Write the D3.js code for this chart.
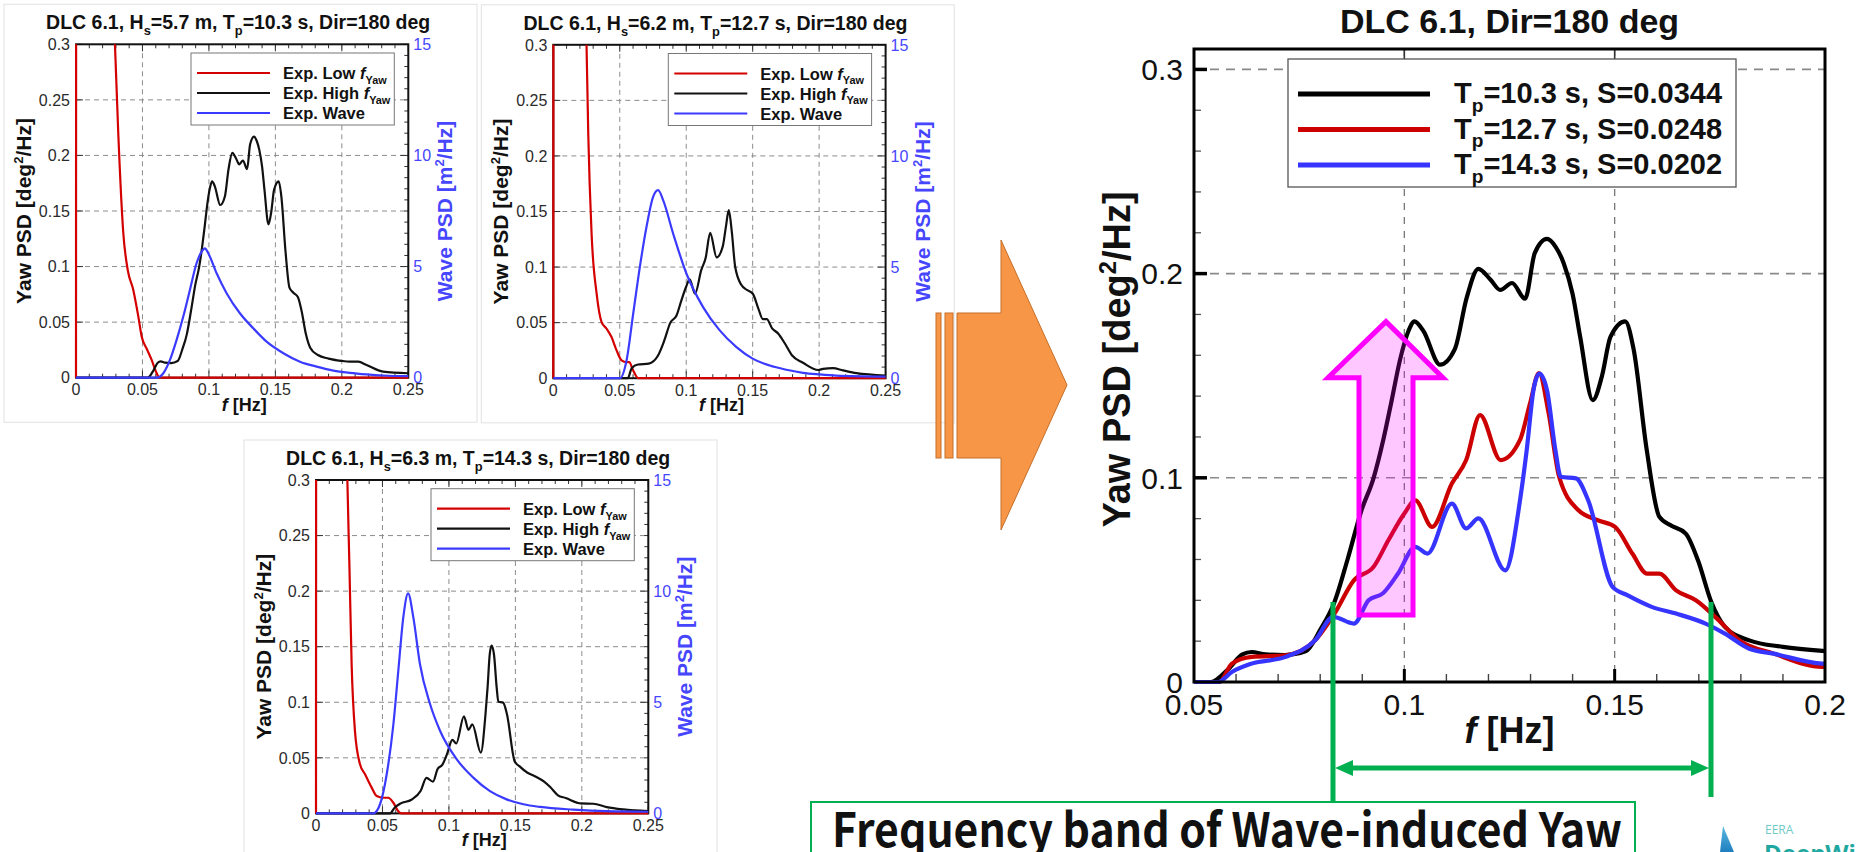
<!DOCTYPE html>
<html>
<head>
<meta charset="utf-8">
<script src="https://cdn.jsdelivr.net/npm/d3@7"></script>
<style>
  html, body { margin: 0; padding: 0; background: #fff; }
  svg { display: block; }
  svg { font-family: "Liberation Sans", Arial, Helvetica, sans-serif; }
</style>
</head>
<body>
<svg id="fig" width="1856" height="852"></svg>
<script>
// ---------------- tick labels ----------------
const smallXTicks = [0, 0.05, 0.1, 0.15, 0.2, 0.25];
const smallYTicks = [0, 0.05, 0.1, 0.15, 0.2, 0.25, 0.3];
const waveTicks = [0, 5, 10, 15];
const bigXTicks = [0.05, 0.1, 0.15, 0.2];
const bigYTicks = [0, 0.1, 0.2, 0.3];

// ---------------- sea states ----------------
const waveHeights = ["5.7", "6.2", "6.3"];
const peakPeriods = ["10.3", "12.7", "14.3"];
const steepness = ["0.0344", "0.0248", "0.0202"];
const smallLegendLabels = ["Exp. Low ", "Exp. High ", "Exp. Wave"];

// ---------------- low-frequency yaw PSD [deg^2/Hz] ----------------
const lowF103 = [0, 0.0008, 0.02, 0.0293, 0.0318, 0.0356, 0.0389, 0.0431, 0.0469, 0.0494, 0.0532, 0.0569, 0.0607, 0.0627, 0.08, 0.25];
const lowPsd103 = [0, 3, 0.9, 0.3, 0.22, 0.13, 0.097, 0.079, 0.055, 0.037, 0.026, 0.016, 0.004, 0, 0, 0];
const lowF127 = [0, 0.0008, 0.018, 0.025, 0.0263, 0.0288, 0.0326, 0.0363, 0.0401, 0.0438, 0.0476, 0.0514, 0.0551, 0.0571, 0.0601, 0.0639, 0.08, 0.25];
const lowPsd127 = [0, 3, 0.9, 0.3, 0.22, 0.13, 0.076, 0.0505, 0.0445, 0.037, 0.025, 0.016, 0.0144, 0.0144, 0.007, 0, 0, 0];
const lowF143 = [0, 0.0008, 0.017, 0.0236, 0.0251, 0.0268, 0.0293, 0.0331, 0.0369, 0.0419, 0.0456, 0.0507, 0.0544, 0.0582, 0.0619, 0.0644, 0.08, 0.25];
const lowPsd143 = [0, 3, 0.9, 0.3, 0.225, 0.1345, 0.0743, 0.0442, 0.0352, 0.0232, 0.0156, 0.0141, 0.0141, 0.0096, 0.002, 0, 0, 0];

// ---------------- high-frequency (wave-induced) yaw PSD [deg^2/Hz] ----------------
const yawF103 = [0, 0.054, 0.058, 0.0615, 0.0637, 0.067, 0.0716, 0.0765, 0.080, 0.0834,
  0.0865, 0.0898, 0.0927, 0.095, 0.097, 0.099, 0.101, 0.1024, 0.1045, 0.1085,
  0.112, 0.1148, 0.1176, 0.1205, 0.1228, 0.1256, 0.1287, 0.131, 0.1339, 0.136,
  0.1379, 0.14, 0.1418, 0.1448, 0.147, 0.149, 0.1525, 0.1545, 0.1576, 0.1606,
  0.1635, 0.1669, 0.1698, 0.173, 0.1762, 0.182, 0.19, 0.1994, 0.206, 0.2124,
  0.2186, 0.231, 0.25];
const yawPsd103 = [0, 0, 0.006, 0.0135, 0.0147, 0.0135, 0.0132, 0.015, 0.0255, 0.0392,
  0.06, 0.084, 0.1, 0.1186, 0.138, 0.158, 0.172, 0.1766, 0.172, 0.1554,
  0.163, 0.188, 0.2023, 0.197, 0.192, 0.1954, 0.1877, 0.21, 0.217, 0.213,
  0.205, 0.19, 0.169, 0.138, 0.15, 0.169, 0.1766, 0.163, 0.114, 0.081,
  0.0765, 0.0727, 0.0596, 0.039, 0.027, 0.0204, 0.0172, 0.0152, 0.0144, 0.0144,
  0.0114, 0.0054, 0.004];
const yawF127 = [0, 0.056, 0.059, 0.0637, 0.0718, 0.0788, 0.0834, 0.088, 0.0927, 0.0962,
  0.1, 0.1026, 0.1066, 0.1113, 0.1147, 0.118, 0.1229, 0.1275, 0.1299, 0.132,
  0.1343, 0.1368, 0.1414, 0.146, 0.1501, 0.1542, 0.1577, 0.1606, 0.1646, 0.1693,
  0.1739, 0.1797, 0.1878, 0.1994, 0.2029, 0.2104, 0.2179, 0.228, 0.25];
const yawPsd127 = [0, 0, 0.009, 0.0123, 0.0131, 0.0204, 0.0335, 0.0498, 0.0564, 0.0694,
  0.0825, 0.089, 0.076, 0.0972, 0.1087, 0.1307, 0.1087, 0.1186, 0.1366, 0.1513,
  0.1317, 0.1005, 0.0841, 0.0792, 0.076, 0.0629, 0.0531, 0.0531, 0.0449, 0.04,
  0.0319, 0.0204, 0.0139, 0.0074, 0.0084, 0.009, 0.007, 0.0045, 0.0024];
const yawF143 = [0, 0.0557, 0.059, 0.0637, 0.0718, 0.0788, 0.0831, 0.088, 0.0915, 0.095,
  0.0985, 0.1026, 0.1055, 0.1113, 0.1147, 0.1176, 0.124, 0.1275, 0.1291, 0.1307,
  0.1321, 0.1339, 0.1359, 0.1372, 0.1408, 0.1437, 0.1495, 0.153, 0.1588, 0.1646,
  0.1716, 0.1762, 0.182, 0.1878, 0.1994, 0.2086, 0.2187, 0.2312, 0.25];
const yawPsd143 = [0, 0, 0.0049, 0.009, 0.0123, 0.0204, 0.0319, 0.0286, 0.04, 0.0436,
  0.0531, 0.0662, 0.0629, 0.0874, 0.0752, 0.0801, 0.0547, 0.089, 0.1137, 0.143,
  0.151, 0.143, 0.1137, 0.1005, 0.0997, 0.089, 0.0466, 0.0425, 0.0368, 0.0335,
  0.0286, 0.0237, 0.0163, 0.0139, 0.009, 0.0087, 0.0057, 0.0036, 0.002];

// ---------------- wave elevation PSD [m^2/Hz] ----------------
const waveF103 = [0, 0.0607, 0.0657, 0.0707, 0.0757, 0.0807, 0.0857, 0.0907, 0.0945, 0.097,
  0.0995, 0.1058, 0.1133, 0.1233, 0.1334, 0.1434, 0.156, 0.1685, 0.181, 0.1936,
  0.206, 0.2186, 0.2312, 0.25];
const wavePsd103 = [0, 0, 0.2, 0.8, 1.7, 2.75, 3.95, 5.15, 5.67, 5.82,
  5.6, 4.7, 3.8, 2.9, 2.22, 1.62, 1.1, 0.72, 0.5, 0.32,
  0.22, 0.15, 0.1, 0.07];
const waveF127 = [0, 0.0501, 0.0551, 0.0601, 0.0651, 0.0701, 0.0751, 0.0789, 0.0827, 0.0902,
  0.1002, 0.1127, 0.1252, 0.1378, 0.1503, 0.1628, 0.1754, 0.1879, 0.2004, 0.2129, 0.25];
const wavePsd127 = [0, 0, 0.8, 2.9, 5.0, 6.8, 8.16, 8.46, 8.0, 6.5,
  4.7, 3.2, 2.15, 1.4, 0.87, 0.57, 0.38, 0.24, 0.17, 0.12, 0.075];
const waveF143 = [0, 0.0431, 0.0481, 0.0532, 0.0582, 0.0619, 0.0657, 0.0693, 0.0732, 0.0782,
  0.0858, 0.0933, 0.1058, 0.1183, 0.1309, 0.1434, 0.156, 0.1685, 0.1936, 0.2187, 0.25];
const wavePsd143 = [0, 0, 0.4, 1.76, 4.0, 6.4, 8.83, 9.9, 8.83, 6.72,
  4.92, 3.72, 2.44, 1.61, 1.0, 0.63, 0.41, 0.29, 0.17, 0.1, 0.075];

// ---------------- helpers ----------------
const zip = (a, b) => a.map((v, i) => [v, b[i]]);
const svg = d3.select("#fig");
const defs = svg.append("defs");

const RED = "#d40000", BLUE = "#3b3bff", BLUE_TXT = "#4646ff";

// text built from pieces: {t, sub, sup, it}
function richText(sel, parts, baseSize) {
  let shift = 0;
  parts.forEach(p => {
    const ts = sel.append("tspan").text(p.t);
    let target = 0;
    if (p.sub) { target = baseSize * 0.3; ts.attr("font-size", baseSize * 0.66); }
    if (p.sup) { target = -baseSize * 0.38; ts.attr("font-size", baseSize * 0.62); }
    if (p.it) ts.attr("font-style", "italic");
    if (target !== shift) { ts.attr("dy", target - shift); shift = target; }
  });
  return sel;
}

// ---------------- small Tecplot-style panels ----------------
function smallPanel(k, ox, oy, low, yaw, wave) {
  const L = 76 + ox, R = 408.3 + ox, T = 44.3 + oy, B = 377.7 + oy;
  const x = d3.scaleLinear().domain([0, 0.25]).range([L, R]);
  const y = d3.scaleLinear().domain([0, 0.3]).range([B, T]);
  const yw = d3.scaleLinear().domain([0, 15]).range([B, T]);
  const g = svg.append("g");

  // faint frame of the panel image
  g.append("rect").attr("x", L - 72).attr("y", T - 40).attr("width", 473).attr("height", 418)
    .attr("fill", "none").attr("stroke", "#e6e6e6").attr("stroke-width", 1.2);

  // dashed grid
  g.selectAll(null).data(smallXTicks.slice(1, -1)).join("line")
    .attr("x1", d => x(d)).attr("x2", d => x(d)).attr("y1", T).attr("y2", B)
    .attr("stroke", "#8c8c8c").attr("stroke-width", 1).attr("stroke-dasharray", "5,4");
  g.selectAll(null).data(smallYTicks.slice(1, -1)).join("line")
    .attr("x1", L).attr("x2", R).attr("y1", d => y(d)).attr("y2", d => y(d))
    .attr("stroke", "#8c8c8c").attr("stroke-width", 1).attr("stroke-dasharray", "5,4");

  // ticks (inward)
  const minorX = d3.range(0, 0.2501, 0.01);
  g.selectAll(null).data(minorX).join("line")
    .attr("x1", d => x(d)).attr("x2", d => x(d))
    .attr("y1", B).attr("y2", (d, i) => B - (i % 5 === 0 ? 7 : 4))
    .attr("stroke", "#333").attr("stroke-width", 1);
  g.selectAll(null).data(minorX).join("line")
    .attr("x1", d => x(d)).attr("x2", d => x(d))
    .attr("y1", T).attr("y2", (d, i) => T + (i % 5 === 0 ? 7 : 4))
    .attr("stroke", "#333").attr("stroke-width", 1);
  g.selectAll(null).data(smallYTicks).join("line")
    .attr("x1", L).attr("x2", L + 7).attr("y1", d => y(d)).attr("y2", d => y(d))
    .attr("stroke", "#333").attr("stroke-width", 1);
  const minorW = d3.range(0, 15.01, 0.5);
  g.selectAll(null).data(minorW).join("line")
    .attr("x1", R).attr("x2", (d, i) => R - (i % 10 === 0 ? 8 : 4))
    .attr("y1", d => yw(d)).attr("y2", d => yw(d))
    .attr("stroke", "#333").attr("stroke-width", 1);

  // frame
  g.append("rect").attr("x", L).attr("y", T).attr("width", R - L).attr("height", B - T)
    .attr("fill", "none").attr("stroke", "#111").attr("stroke-width", 2);

  // curves
  const cid = "clipSmall" + k;
  defs.append("clipPath").attr("id", cid).append("rect")
    .attr("x", L - 2).attr("y", T).attr("width", R - L + 4).attr("height", B - T + 2);
  const cg = g.append("g").attr("clip-path", `url(#${cid})`);
  const lineY = d3.line().x(d => x(d[0])).y(d => y(d[1])).curve(d3.curveMonotoneX);
  const lineW = d3.line().x(d => x(d[0])).y(d => yw(d[1])).curve(d3.curveMonotoneX);
  cg.append("path").datum(low).attr("d", lineY).attr("fill", "none").attr("stroke", RED).attr("stroke-width", 2.2);
  cg.append("path").datum(yaw).attr("d", lineY).attr("fill", "none").attr("stroke", "#111").attr("stroke-width", 2.2);
  cg.append("path").datum(wave).attr("d", lineW).attr("fill", "none").attr("stroke", BLUE).attr("stroke-width", 2.2);

  // tick labels
  g.selectAll(null).data(smallYTicks).join("text")
    .attr("x", L - 6).attr("y", d => y(d)).attr("dy", "0.36em")
    .attr("text-anchor", "end").attr("font-size", 16).attr("fill", "#2a2a2a")
    .text(d => d3.format("~g")(d));
  g.selectAll(null).data(smallXTicks).join("text")
    .attr("x", d => x(d)).attr("y", B + 17.5)
    .attr("text-anchor", "middle").attr("font-size", 16).attr("fill", "#2a2a2a")
    .text(d => d3.format("~g")(d));
  g.selectAll(null).data(waveTicks).join("text")
    .attr("x", R + 5).attr("y", d => yw(d)).attr("dy", "0.36em")
    .attr("text-anchor", "start").attr("font-size", 16).attr("fill", BLUE_TXT)
    .text(d => d);

  // axis titles
  richText(g.append("text").attr("x", (L + R) / 2 + 2).attr("y", B + 33)
    .attr("text-anchor", "middle").attr("font-size", 18).attr("font-weight", "bold").attr("fill", "#111"),
    [{ t: "f", it: true }, { t: " [Hz]" }], 18);
  richText(g.append("text").attr("transform", `translate(${L - 45},${(T + B) / 2}) rotate(-90)`)
    .attr("text-anchor", "middle").attr("font-size", 21).attr("font-weight", "bold").attr("fill", "#111"),
    [{ t: "Yaw PSD [deg" }, { t: "2", sup: true }, { t: "/Hz]" }], 21);
  richText(g.append("text").attr("transform", `translate(${R + 44},${(T + B) / 2}) rotate(-90)`)
    .attr("text-anchor", "middle").attr("font-size", 21).attr("font-weight", "bold").attr("fill", BLUE_TXT),
    [{ t: "Wave PSD [m" }, { t: "2", sup: true }, { t: "/Hz]" }], 21);

  // title
  richText(g.append("text").attr("x", (L + R) / 2 - 4).attr("y", T - 15)
    .attr("text-anchor", "middle").attr("font-size", 19.5).attr("font-weight", "bold").attr("fill", "#111"),
    [{ t: "DLC 6.1, H" }, { t: "s", sub: true }, { t: `=${waveHeights[k]} m, T` }, { t: "p", sub: true },
     { t: `=${peakPeriods[k]} s, Dir=180 deg` }], 19.5);

  // legend
  const lg = g.append("g");
  lg.append("rect").attr("x", L + 115).attr("y", T + 8.7).attr("width", R - L - 129).attr("height", 72)
    .attr("fill", "#fff").attr("stroke", "#777").attr("stroke-width", 1);
  const cols = [RED, "#111", BLUE];
  smallLegendLabels.forEach((lab, i) => {
    const ly = T + 28.7 + i * 20;
    lg.append("line").attr("x1", L + 121).attr("x2", L + 194).attr("y1", ly).attr("y2", ly)
      .attr("stroke", cols[i]).attr("stroke-width", 2.2);
    const parts = i < 2 ? [{ t: lab }, { t: "f", it: true }, { t: "Yaw", sub: true }] : [{ t: lab }];
    richText(lg.append("text").attr("x", L + 207).attr("y", ly + 6)
      .attr("font-size", 16.5).attr("font-weight", "bold").attr("fill", "#111"), parts, 16.5);
  });
}

smallPanel(0, 0, 0, zip(lowF103, lowPsd103), zip(yawF103, yawPsd103), zip(waveF103, wavePsd103));
smallPanel(1, 477.3, 0.5, zip(lowF127, lowPsd127), zip(yawF127, yawPsd127), zip(waveF127, wavePsd127));
smallPanel(2, 240, 435.7, zip(lowF143, lowPsd143), zip(yawF143, yawPsd143), zip(waveF143, wavePsd143));

// ---------------- block arrow ----------------
const arrow = svg.append("g").attr("fill", "#f79646").attr("stroke", "#c56f2a").attr("stroke-width", 1);
arrow.append("rect").attr("x", 936).attr("y", 313).attr("width", 5).attr("height", 145);
arrow.append("rect").attr("x", 945).attr("y", 313).attr("width", 8).attr("height", 145);
arrow.append("polygon").attr("points", "957,313 1001,313 1001,240 1067,385 1001,530 1001,458 957,458");

// ---------------- comparison chart ----------------
const BL = 1194, BR = 1825, BT = 49, BB = 682;
const xb = d3.scaleLinear().domain([0.05, 0.2]).range([BL, BR]);
const yb = d3.scaleLinear().domain([0, 0.31]).range([BB, BT]);
const big = svg.append("g");

// grid
big.selectAll(null).data([0.1, 0.15]).join("line")
  .attr("x1", d => xb(d)).attr("x2", d => xb(d)).attr("y1", BT).attr("y2", BB)
  .attr("stroke", "#777").attr("stroke-width", 1.3).attr("stroke-dasharray", "7,7");
big.selectAll(null).data([0.1, 0.2, 0.3]).join("line")
  .attr("x1", BL).attr("x2", BR).attr("y1", d => yb(d)).attr("y2", d => yb(d))
  .attr("stroke", "#8a8a8a").attr("stroke-width", 1.6).attr("stroke-dasharray", "9,7");

// ticks
big.selectAll(null).data(d3.range(0.06, 0.2, 0.01)).join("line")
  .attr("x1", d => xb(d)).attr("x2", d => xb(d)).attr("y1", BB).attr("y2", BB - 8)
  .attr("stroke", "#444").attr("stroke-width", 1.4);
big.selectAll(null).data([0.1, 0.15]).join("line")
  .attr("x1", d => xb(d)).attr("x2", d => xb(d)).attr("y1", BB).attr("y2", BB - 13)
  .attr("stroke", "#000").attr("stroke-width", 3);
big.selectAll(null).data([0.1, 0.15]).join("line")
  .attr("x1", d => xb(d)).attr("x2", d => xb(d)).attr("y1", BT).attr("y2", BT + 10)
  .attr("stroke", "#333").attr("stroke-width", 1.6);
big.selectAll(null).data(d3.range(0.02, 0.31, 0.02).filter(v => Math.abs(v * 10 - Math.round(v * 10)) > 1e-6)).join("line")
  .attr("x1", BL).attr("x2", BL + 7).attr("y1", d => yb(d)).attr("y2", d => yb(d))
  .attr("stroke", "#555").attr("stroke-width", 1.3);
big.selectAll(null).data(bigYTicks.slice(1)).join("line")
  .attr("x1", BL).attr("x2", BL + 13).attr("y1", d => yb(d)).attr("y2", d => yb(d))
  .attr("stroke", "#000").attr("stroke-width", 3.5);

// legend
const blg = big.append("g");
blg.append("rect").attr("x", 1288).attr("y", 59).attr("width", 448).attr("height", 128)
  .attr("fill", "#fff").attr("stroke", "#555").attr("stroke-width", 1.3);
const bigCols = ["#000", "#cc0000", "#3535ff"];
peakPeriods.forEach((tp, i) => {
  const ly = 94 + i * 35.5;
  blg.append("line").attr("x1", 1298).attr("x2", 1430).attr("y1", ly).attr("y2", ly)
    .attr("stroke", bigCols[i]).attr("stroke-width", 5);
  richText(blg.append("text").attr("x", 1454).attr("y", ly + 9)
    .attr("font-size", 29).attr("font-weight", "bold").attr("fill", "#111"),
    [{ t: "T" }, { t: "p", sub: true }, { t: `=${tp} s, S=${steepness[i]}` }], 29);
});

// curves
defs.append("clipPath").attr("id", "clipBig").append("rect")
  .attr("x", BL).attr("y", BT).attr("width", BR - BL).attr("height", BB - BT + 2);
const bcg = big.append("g").attr("clip-path", "url(#clipBig)");
const lineB = d3.line().x(d => xb(d[0])).y(d => yb(d[1])).curve(d3.curveMonotoneX);
[zip(yawF103, yawPsd103), zip(yawF127, yawPsd127), zip(yawF143, yawPsd143)].forEach((s, i) => {
  bcg.append("path").datum(s).attr("d", lineB).attr("fill", "none")
    .attr("stroke", bigCols[i]).attr("stroke-width", 4.2).attr("stroke-linejoin", "round");
});

// frame
big.append("rect").attr("x", BL).attr("y", BT).attr("width", BR - BL).attr("height", BB - BT)
  .attr("fill", "none").attr("stroke", "#000").attr("stroke-width", 3);

// tick labels
big.selectAll(null).data(bigYTicks).join("text")
  .attr("x", BL - 11).attr("y", d => yb(d)).attr("dy", "0.36em")
  .attr("text-anchor", "end").attr("font-size", 30).attr("fill", "#111")
  .text(d => d3.format("~g")(d));
big.selectAll(null).data(bigXTicks).join("text")
  .attr("x", d => xb(d)).attr("y", BB + 33)
  .attr("text-anchor", "middle").attr("font-size", 30).attr("fill", "#111")
  .text(d => d3.format("~g")(d));

// titles
big.append("text").attr("x", (BL + BR) / 2).attr("y", 33).attr("text-anchor", "middle")
  .attr("font-size", 34).attr("font-weight", "bold").attr("fill", "#111").text("DLC 6.1, Dir=180 deg");
richText(big.append("text").attr("x", (BL + BR) / 2).attr("y", BB + 61).attr("text-anchor", "middle")
  .attr("font-size", 36).attr("font-weight", "bold").attr("fill", "#111"),
  [{ t: "f", it: true }, { t: " [Hz]" }], 36);
richText(big.append("text").attr("transform", `translate(${BL - 64},${(BT + BB) / 2 - 6}) rotate(-90)`)
  .attr("text-anchor", "middle").attr("font-size", 38).attr("font-weight", "bold").attr("fill", "#111"),
  [{ t: "Yaw PSD [deg" }, { t: "2", sup: true }, { t: "/Hz]" }], 38);

// upward arrow marking the rise of the yaw response
const ax = v => xb(v), ay = v => yb(v);
const upPts = [[0.09564, 0.1765], [0.10919, 0.149], [0.10206, 0.149], [0.10206, 0.0328],
  [0.08922, 0.0328], [0.08922, 0.149], [0.08185, 0.149]];
big.append("polygon")
  .attr("points", upPts.map(p => `${ax(p[0])},${ay(p[1])}`).join(" "))
  .attr("fill", "rgba(255,0,255,0.22)").attr("stroke", "#ff00ff").attr("stroke-width", 5)
  .attr("stroke-linejoin", "miter");

// wave-induced frequency band
const GREEN = "#00b050";
const bandLo = 0.08304, bandHi = 0.1729;
const gg = svg.append("g");
gg.append("line").attr("x1", xb(bandLo)).attr("x2", xb(bandLo)).attr("y1", yb(0.0392)).attr("y2", 803)
  .attr("stroke", GREEN).attr("stroke-width", 5);
gg.append("line").attr("x1", xb(bandHi)).attr("x2", xb(bandHi)).attr("y1", yb(0.0392)).attr("y2", 797)
  .attr("stroke", GREEN).attr("stroke-width", 5);
const ya = 768;
gg.append("line").attr("x1", xb(bandLo) + 12).attr("x2", xb(bandHi) - 12).attr("y1", ya).attr("y2", ya)
  .attr("stroke", GREEN).attr("stroke-width", 5);
gg.append("polygon").attr("fill", GREEN)
  .attr("points", `${xb(bandLo) + 2},${ya} ${xb(bandLo) + 20},${ya - 8} ${xb(bandLo) + 20},${ya + 8}`);
gg.append("polygon").attr("fill", GREEN)
  .attr("points", `${xb(bandHi) - 2},${ya} ${xb(bandHi) - 20},${ya - 8} ${xb(bandHi) - 20},${ya + 8}`);

gg.append("rect").attr("x", 811).attr("y", 802).attr("width", 824).attr("height", 70)
  .attr("fill", "#fff").attr("stroke", GREEN).attr("stroke-width", 2);
gg.append("text").attr("x", 832).attr("y", 847)
  .style("font-family", "'Noto Sans CJK KR', 'Noto Sans', sans-serif")
  .attr("font-size", 47).attr("font-weight", "bold").attr("fill", "#111")
  .attr("textLength", 790).attr("lengthAdjust", "spacingAndGlyphs")
  .text("Frequency band of Wave-induced Yaw");

// logo
const logo = svg.append("g");
const lgGrad = defs.append("linearGradient").attr("id", "bladeGrad").attr("x1", 0).attr("x2", 0).attr("y1", 0).attr("y2", 1);
lgGrad.append("stop").attr("offset", 0).attr("stop-color", "#5bb8e0");
lgGrad.append("stop").attr("offset", 1).attr("stop-color", "#1f7fc0");
logo.append("polygon").attr("points", "1723,826 1734,852 1720,852").attr("fill", "url(#bladeGrad)");
logo.append("text").attr("x", 1765).attr("y", 834).attr("font-size", 12)
  .style("font-family", "'Open Sans', sans-serif").attr("fill", "#6fcac6").text("EERA");
logo.append("text").attr("x", 1764).attr("y", 862).attr("font-size", 24).attr("font-weight", "bold")
  .style("font-family", "'Open Sans', sans-serif").attr("fill", "#20a8a0").text("DeepWind");
</script>
</body>
</html>
